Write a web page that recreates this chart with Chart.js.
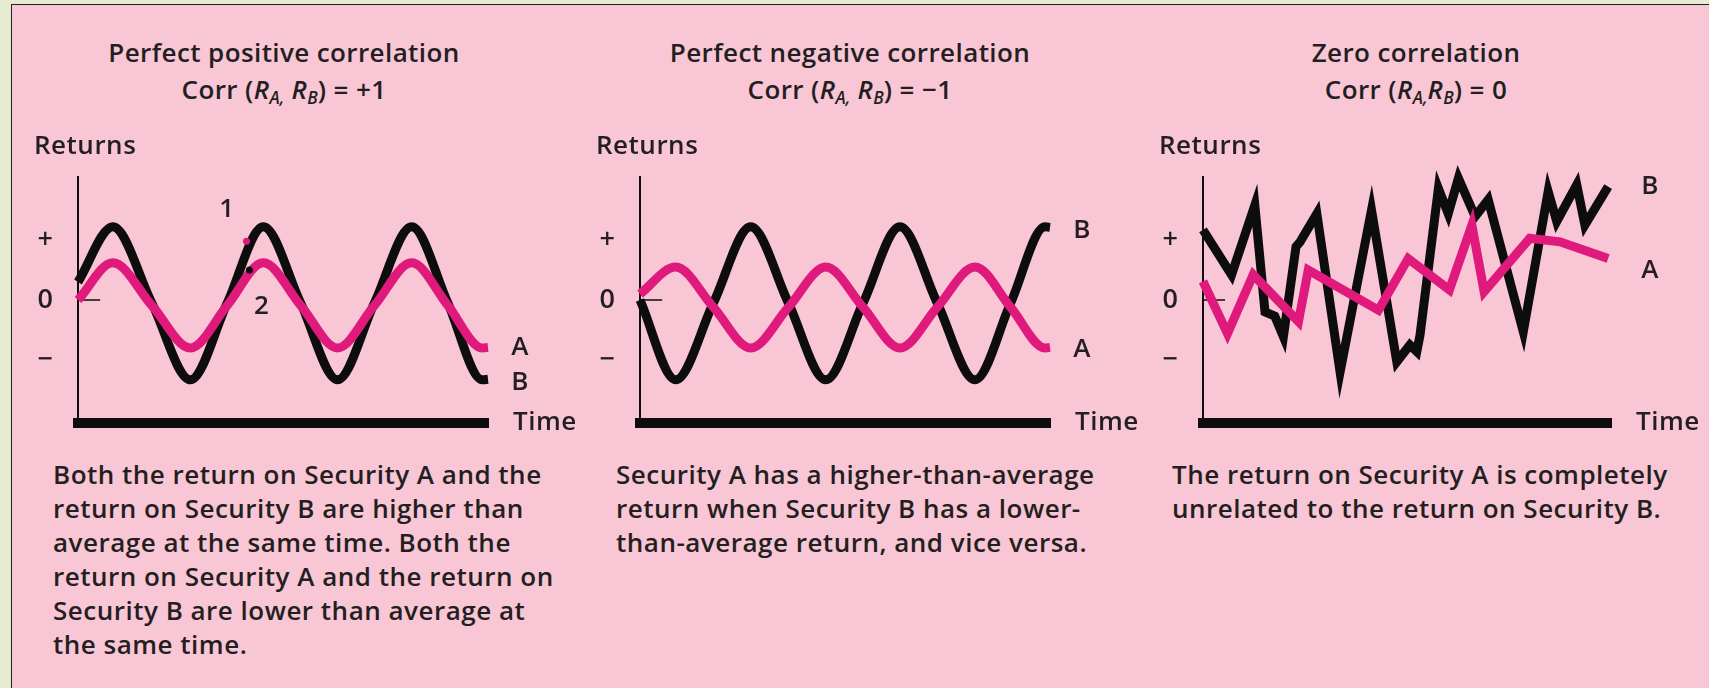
<!DOCTYPE html>
<html>
<head>
<meta charset="utf-8">
<script src="https://cdn.jsdelivr.net/npm/chart.js@4.4.1/dist/chart.umd.min.js"></script>
<style>
    html, body { margin: 0; padding: 0; }
    body {
        width: 1709px; height: 688px; position: relative; overflow: hidden;
        background: #e7ebd2; color: #231f20;
        font-family: 'Open Sans', sans-serif; font-weight: 600;
    }
    #frame {
        position: absolute; left: 11px; top: 4px; right: -5px; bottom: -5px;
        background: #f9c6d6;
        border-left: 1.5px solid #222; border-top: 1.5px solid #222;
    }
    .title {
        position: absolute; top: 34px; width: 600px; margin-left: -300px;
        text-align: center; font-size: 26px; letter-spacing: 0.4px; line-height: 37px; white-space: nowrap;
    }
    .title sub { font-size: 0.66em; vertical-align: -0.3em; line-height: 0; font-style: italic; letter-spacing: 0; }
    .para {
        position: absolute; top: 457px; font-size: 26px; letter-spacing: 0.5px; line-height: 34px; white-space: nowrap;
    }
    canvas { position: absolute; top: 120px; }
</style>
</head>
<body>
<div id="frame"></div>

<div class="title" style="left:284px">Perfect positive correlation<br>Corr (<i>R</i><sub>A,</sub> <i>R</i><sub>B</sub>) = +1</div>
<div class="title" style="left:850px">Perfect negative correlation<br>Corr (<i>R</i><sub>A,</sub> <i>R</i><sub>B</sub>) = −1</div>
<div class="title" style="left:1416px">Zero correlation<br>Corr (<i>R</i><sub>A,</sub><i>R</i><sub>B</sub>) = 0</div>

<canvas id="chartPos" width="590" height="320" style="left:8px"></canvas>
<canvas id="chartNeg" width="590" height="320" style="left:570px"></canvas>
<canvas id="chartZero" width="590" height="320" style="left:1133px"></canvas>

<div class="para" style="left:53px">Both the return on Security A and the<br>return on Security B are higher than<br>average at the same time. Both the<br>return on Security A and the return on<br>Security B are lower than average at<br>the same time.</div>
<div class="para" style="left:616px">Security A has a higher-than-average<br>return when Security B has a lower-<br>than-average return, and vice versa.</div>
<div class="para" style="left:1172px">The return on Security A is completely<br>unrelated to the return on Security B.</div>

<script>
// 縦軸の目盛り
const yTickValues = [-1, 0, 1];
const yTickLabels = ['−', '0', '+'];

// 正の完全相関
const posTime = [0, 8.5, 18, 27.4, 36.4, 45.2, 54.3, 63.3, 72.3, 81.4, 90.2, 98.6, 100];
const posA = [0, 0.62, -0.09, -0.8, -0.09, 0.62, -0.09, -0.8, -0.09, 0.62, -0.09, -0.8, -0.79];
const posB = [0.3, 1.22, -0.05, -1.33, -0.05, 1.22, -0.05, -1.33, -0.05, 1.22, -0.05, -1.33, -1.32];
// 点1・点2
const markTime = [41.1, 41.8];
const markValue = [0.98, 0.5];
const noteText = ['1', '2'];
const noteTime = [36.3, 44.8];
const noteValue = [1.5, -0.11];

// 負の完全相関
const negTime = [0, 8.7, 17.9, 27, 36.2, 45.3, 54.4, 63.4, 72.5, 81.7, 90.4, 98.8, 100];
const negA = [0.1, 0.55, -0.12, -0.8, -0.12, 0.55, -0.12, -0.8, -0.12, 0.55, -0.12, -0.8, -0.79];
const negB = [0, -1.33, -0.05, 1.22, -0.05, -1.33, -0.05, 1.22, -0.05, -1.33, -0.05, 1.22, 1.21];

// 無相関
const zeroTimeA = [0, 6.0, 12.3, 23.4, 25.8, 43.0, 50.3, 60.4, 65.9, 68.9, 80.1, 87.5, 99.3];
const zeroA = [0.31, -0.56, 0.42, -0.36, 0.5, -0.17, 0.69, 0.17, 1.25, 0.14, 1.03, 0.97, 0.69];
const zeroTimeB = [0, 7.0, 12.7, 15.2, 17.6, 19.7, 22.8, 23.8, 27.9, 33.6, 41.3, 47.5, 50.7,
    52.4, 53.2, 57.7, 60.1, 62.6, 66.7, 69.9, 78.5, 84.6, 86.7, 91.6, 93.6, 99.3];
const zeroB = [1.17, 0.42, 1.58, -0.2, -0.27, -0.61, 0.89, 0.97, 1.44, -1.2, 1.5, -1.03, -0.75,
    -0.86, -0.58, 1.86, 1.44, 2.03, 1.39, 1.67, -0.53, 1.81, 1.31, 1.92, 1.25, 1.89];

// ゼロの目盛り線
const zeroTickTime = [0, 5.4];

const PINK = '#e0197d';
const BLACK = '#0d0d0d';
const TEXT = '#231f20';
const FONT = '"Open Sans", sans-serif';

const toPoints = (xs, ys) => xs.map((x, i) => ({ x: x, y: ys[i] }));

/**
 * 文字ラベルを描画するプラグイン
 */
const panelText = {
    id: 'panelText',
    afterDraw(chart) {
        const { ctx, chartArea, scales } = chart;
        ctx.save();
        ctx.fillStyle = TEXT;
        ctx.font = '600 26px ' + FONT;
        ctx.letterSpacing = '0.5px';
        ctx.textBaseline = 'middle';
        ctx.textAlign = 'left';
        ctx.fillText('Returns', chartArea.left - 44, chartArea.top - 30);
        ctx.fillText('Time', chartArea.right + 25, chartArea.bottom);

        // 線の終点にA・Bを付ける
        ctx.textAlign = 'center';
        chart.data.datasets.forEach((ds, i) => {
            if (!ds.endLabel) return;
            const pts = chart.getDatasetMeta(i).data;
            const last = pts[pts.length - 1];
            ctx.fillText(ds.endLabel, last.x + ds.endDx, last.y + ds.endDy);
        });

        // 注記
        const notes = chart.options.plugins.panelText.notes || [];
        notes.forEach(n => {
            ctx.fillText(n.text, scales.x.getPixelForValue(n.x), scales.y.getPixelForValue(n.y));
        });
        ctx.restore();
    }
};

function lineSet(points, color, label, dx, dy, smooth, order) {
    return {
        data: points,
        borderColor: color,
        borderWidth: 9,
        pointRadius: 0,
        fill: false,
        clip: false,
        order: order,
        borderCapStyle: 'butt',
        borderJoinStyle: 'miter',
        cubicInterpolationMode: smooth ? 'monotone' : 'default',
        tension: 0,
        endLabel: label,
        endDx: dx,
        endDy: dy
    };
}

function createPanel(canvasId, axisWidth, datasets, notes) {
    const canvas = document.getElementById(canvasId);
    datasets.push({
        data: toPoints(zeroTickTime, [0, 0]),
        borderColor: BLACK,
        borderWidth: 1.5,
        pointRadius: 0,
        clip: false,
        order: 5
    });
    return new Chart(canvas, {
        type: 'line',
        data: { datasets: datasets },
        plugins: [panelText],
        options: {
            responsive: false,
            animation: false,
            layout: { padding: { left: 0, top: 57, bottom: 17, right: canvas.width - 70 - axisWidth } },
            plugins: {
                legend: { display: false },
                tooltip: { enabled: false },
                panelText: { notes: notes }
            },
            scales: {
                x: {
                    type: 'linear', min: 0, max: 100,
                    ticks: { display: false },
                    grid: { display: false, drawTicks: false },
                    border: { display: true, width: 10, color: BLACK },
                    afterFit: s => { s.height = 0; s.paddingLeft = 0; s.paddingRight = 0; }
                },
                y: {
                    type: 'linear', min: -2.05, max: 2.05,
                    afterBuildTicks: s => { s.ticks = yTickValues.map(v => ({ value: v })); },
                    ticks: {
                        color: TEXT,
                        font: { family: FONT, size: 27, weight: 600 },
                        crossAlign: 'center',
                        padding: 25,
                        callback: v => yTickLabels[yTickValues.indexOf(v)]
                    },
                    grid: { display: false, drawTicks: false },
                    border: { display: true, width: 2, color: BLACK },
                    afterFit: s => { s.width = 70; s.paddingTop = 0; s.paddingBottom = 0; }
                }
            }
        }
    });
}

// 正の完全相関
createPanel('chartPos', 410, [
    {
        data: toPoints(markTime, markValue),
        showLine: false,
        pointRadius: 3.5,
        pointBackgroundColor: [PINK, BLACK],
        pointBorderWidth: 0,
        clip: false,
        order: 0
    },
    lineSet(toPoints(posTime, posA), PINK, 'A', 32, 0, true, 1),
    lineSet(toPoints(posTime, posB), BLACK, 'B', 32, 3, true, 2)
], noteText.map((t, i) => ({ text: t, x: noteTime[i], y: noteValue[i] })));

// 負の完全相関
createPanel('chartNeg', 410, [
    lineSet(toPoints(negTime, negA), PINK, 'A', 32, 2, true, 1),
    lineSet(toPoints(negTime, negB), BLACK, 'B', 32, 3, true, 2)
], []);

// 無相関
createPanel('chartZero', 408, [
    lineSet(toPoints(zeroTimeA, zeroA), PINK, 'A', 42, 12, false, 1),
    lineSet(toPoints(zeroTimeB, zeroB), BLACK, 'B', 42, 0, false, 2)
], []);
</script>
</body>
</html>
